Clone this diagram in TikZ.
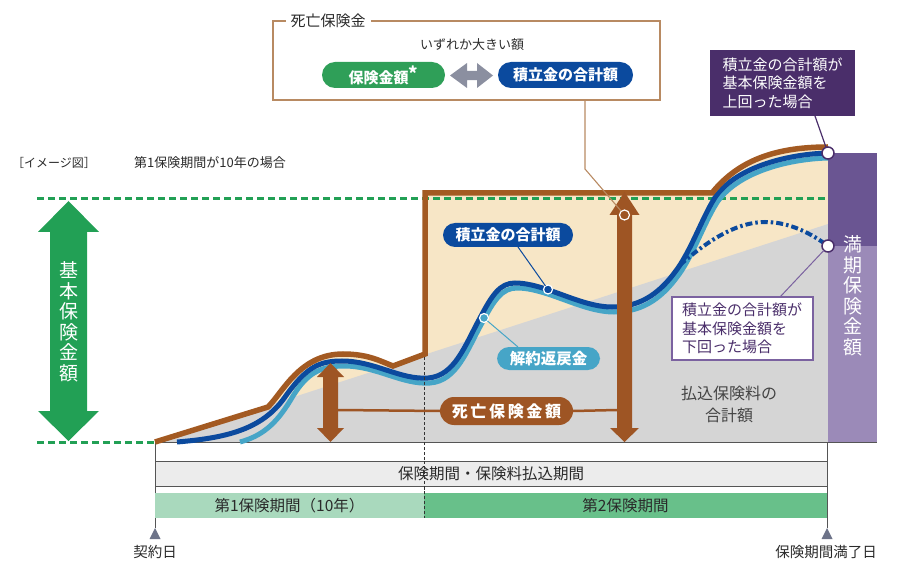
\documentclass[tikz,border=0pt]{standalone}
\usepackage{fontspec}
\setmainfont{Noto Sans CJK JP}
\newcommand\fsz[1]{\fontsize{#1}{#1}\selectfont}
\definecolor{brownM}{HTML}{9E5524}
\definecolor{brownL}{HTML}{A35A22}
\definecolor{tanF}{HTML}{F7E6C6}
\definecolor{grayA}{HTML}{D5D5D5}
\definecolor{blueD}{HTML}{0B4A9E}
\definecolor{blueL}{HTML}{46A5C7}
\definecolor{greenD}{HTML}{22A055}
\definecolor{greenP}{HTML}{2F9F58}
\definecolor{purpleD}{HTML}{4A2E6A}
\definecolor{purpleM}{HTML}{7B62A0}
\definecolor{purpleA}{HTML}{6A5592}
\definecolor{purpleB}{HTML}{9B8AB8}
\definecolor{arrowG}{HTML}{8B8FA0}
\definecolor{boxBr}{HTML}{B88A62}
\definecolor{barG}{HTML}{ECECEC}
\definecolor{greenA}{HTML}{A9D9BD}
\definecolor{greenB}{HTML}{68C08A}
\definecolor{triG}{HTML}{6D7389}
\definecolor{axisG}{HTML}{555555}
\definecolor{textD}{HTML}{2A2A2A}
\definecolor{textG}{HTML}{444444}
\begin{document}
\begin{tikzpicture}[x=1pt,y=-1pt,
  every node/.style={inner sep=0pt,outer sep=0pt,text=textD},
  pillnode/.style={rounded corners=12pt,text=white,font=\fsz{15}\bfseries},
  brownline/.style={draw=brownL,line width=5.5pt},
  blueline/.style={draw=blueD,line width=5pt},
  lblueline/.style={draw=blueL,line width=5pt},
  gdash/.style={draw=greenD,line width=3pt,dash pattern=on 7pt off 4pt},
  thinline/.style={draw=axisG,line width=0.8pt},
  boxline/.style={draw=boxBr,line width=1.1pt},
  vtext/.style={text=white,align=center,font=\fontsize{19}{20.5}\selectfont},
  calltext/.style={align=left,font=\fontsize{15}{18.5}\selectfont,text width=121pt},
  dotnode/.style={circle,minimum size=9pt,draw=white,line width=1.2pt},
  barnode/.style={minimum height=25pt,font=\fsz{15.5},text=textD}
]
\useasboundingbox (0,0) rectangle (905,561);

% tan region (death benefit)
\fill[tanF] (155,442) -- (268,407) .. controls (283,392) and (300,354) .. (343,354)
  .. controls (368,354) and (380,361) .. (393,366) -- (425,354) -- (425,193) -- (712,193)
  .. controls (740,158) and (780,147) .. (828,147) -- (828,442) -- cycle;
% gray region (paid premiums)
\fill[grayA] (155,442) -- (828,224) -- (828,442) -- cycle;
% maturity bar
\fill[purpleA] (828,153) rectangle (877,246);
\fill[purpleB] (828,246) rectangle (877,442);

% green dashed levels
\draw[gdash] (37,199) -- (828,199);
\draw[gdash] (37,442) -- (155,442);

% vertical guides
\draw[thinline] (155,442) -- (155,528);
\draw[thinline] (827,442) -- (827,528);
\draw[thinline] (155,442) -- (877,442);

% curves
\draw[lblueline] (240,442) .. controls (262,436) and (276,424) .. (290,401)
  .. controls (305,375) and (318,366) .. (344,366)
  .. controls (377,366) and (402,385) .. (430,383)
  .. controls (457,381) and (467,350) .. (482,323)
  .. controls (494,300) and (502,288) .. (517,288)
  .. controls (547,288) and (582,312) .. (614,312)
  .. controls (644,312) and (664,297) .. (682,270)
  .. controls (696,248) and (706,219) .. (718,201)
  .. controls (740,171) and (790,159) .. (828,158);
\draw[blueline] (177,442) .. controls (225,438) and (262,430) .. (285,397)
  .. controls (307,366) and (320,361) .. (342,361)
  .. controls (375,361) and (400,380) .. (428,378)
  .. controls (455,376) and (465,345) .. (480,318)
  .. controls (492,295) and (500,283) .. (515,283)
  .. controls (545,283) and (580,307) .. (612,307)
  .. controls (642,307) and (662,292) .. (680,265)
  .. controls (694,243) and (704,214) .. (716,196)
  .. controls (738,166) and (790,154) .. (828,153);
\draw[brownline] (155,442) -- (268,407) .. controls (283,392) and (300,354) .. (343,354)
  .. controls (368,354) and (380,361) .. (393,366) -- (425,354) -- (425,193) -- (712,193)
  .. controls (740,158) and (780,147) .. (828,147);
\draw[blueD,line width=4pt,dash pattern=on 7pt off 3pt on 2.5pt off 3pt]
  (680,265) .. controls (705,243) and (735,222) .. (765,222)
  .. controls (790,222) and (812,234) .. (828,246);

% dashed period divider
\draw[black!80,line width=0.7pt,dash pattern=on 3pt off 2pt] (424,357) -- (424,518);

% death benefit arrows
\fill[brownM] (330.5,363) -- (344,377) -- (338,377) -- (338,428) -- (344,428) -- (330.5,442)
  -- (317,428) -- (323,428) -- (323,377) -- (317,377) -- cycle;
\fill[brownM] (624.5,192) -- (639.5,215) -- (632,215) -- (632,428) -- (639,428) -- (624.5,442)
  -- (610,428) -- (617,428) -- (617,215) -- (609.5,215) -- cycle;
\coordinate (hlineL) at (338,410);
\coordinate (hlineR) at (617,410);
\node[pillnode,fill=brownM,minimum width=133pt,minimum height=28pt,rounded corners=14pt,font=\fsz{16}\bfseries] (pillDeath) at (506.5,411) {死\,亡\,保\,険\,金\,額};
\draw[brownM,line width=2.5pt] (hlineL) -- (pillDeath.west);
\draw[brownM,line width=2.5pt] (pillDeath.east) -- (hlineR);
\node[dotnode,fill=brownM,minimum size=10pt] (dotTall) at (624.5,215) {};

% basic sum arrow
\fill[greenD] (68.5,201) -- (99,232) -- (87,232) -- (87,411) -- (99,411) -- (68.5,441)
  -- (38,411) -- (50,411) -- (50,232) -- (38,232) -- cycle;
\node[vtext] (kihon) at (68.5,322) {基\\本\\保\\険\\金\\額};
\node[vtext] (manki) at (852.5,296) {満\\期\\保\\険\\金\\額};

% curve labels
\node[pillnode,fill=blueD,minimum width=130pt,minimum height=24pt] (lblAcc) at (508,235) {積立金の合計額};
\node[dotnode,fill=blueD] (dotAcc) at (548,289.5) {};
\draw[blueD,line width=1pt] ([xshift=10pt]lblAcc.south) -- (dotAcc);
\node[pillnode,fill=blueL,minimum width=103pt,minimum height=23pt,font=\fsz{15.5}\bfseries] (lblSur) at (548.5,358.5) {解約返戻金};
\node[dotnode,fill=blueL] (dotSur) at (484,318) {};
\draw[blueL,line width=1pt] ([xshift=-30.5pt]lblSur.north) -- (dotSur);

% paid premium text
\node[align=center,font=\fontsize{16}{22}\selectfont,text=textG] (paidTotal) at (729,404) {払込保険料の\\合計額};

% callouts
\node[dotnode,fill=white,draw=purpleD,line width=1.5pt,minimum size=12pt] (dotUp) at (828,153) {};
\node[dotnode,fill=white,draw=purpleD,line width=1.5pt,minimum size=12pt] (dotDown) at (828,246) {};
\node[calltext,fill=purpleD,text=white,minimum width=145pt,minimum height=66pt,text width=120pt,inner xsep=12.5pt] (callUp) at (782.5,83) {積立金の合計額が\\基本保険金額を\\上回った場合};
\draw[purpleD,line width=1.2pt] ([xshift=32.5pt]callUp.south) -- (dotUp);
\node[calltext,fill=white,draw=purpleM,line width=1.2pt,text=purpleD,minimum width=141pt,minimum height=63pt,inner xsep=10pt] (callDown) at (742.5,328.5) {積立金の合計額が\\基本保険金額を\\下回った場合};
\draw[purpleM,line width=1pt] ([xshift=37.5pt]callDown.north) -- (dotDown);

% top box
\node[font=\fsz{15},inner xsep=5pt] (dtitle) at (328,21) {死亡保険金};
\draw[boxline] (dtitle.west) -- (273,21) -- (273,100) -- (660,100) -- (660,21) -- (dtitle.east);
\node[font=\fsz{13}] (either) at (472,45) {いずれか大きい額};
\node[pillnode,fill=greenP,minimum width=123pt,minimum height=26pt,rounded corners=13pt] (pillSum) at (383.5,75) {保険金額\raisebox{3pt}{\fsz{18}*}};
\node[pillnode,fill=blueD,minimum width=135pt,minimum height=26pt,rounded corners=13pt] (pillAccTop) at (565.5,75) {積立金の合計額};
\fill[arrowG] (450,75.5) -- (467,63) -- (467,70.8) -- (477,70.8) -- (477,63) -- (493,75.5)
  -- (477,88) -- (477,80.2) -- (467,80.2) -- (467,88) -- cycle;
\coordinate (boxTap) at (585,100);
\coordinate (boxBend) at (585,169);
\draw[boxline] (boxTap) -- (boxBend) -- (dotTall);

% header texts
\node[font=\fsz{12}] (imgNote) at (54,163) {［イメージ図］};
\node[font=\fsz{13}] (caseNote) at (210,163) {第1保険期間が10年の場合};

% period bars
\node[barnode,draw=axisG,line width=0.8pt,fill=barG,minimum width=672pt] (barAll) at (491,473.5) {保険期間・保険料払込期間};
\node[barnode,fill=greenA,minimum width=269pt] (bar1) at (289.5,505.5) {第1保険期間（10年）};
\node[barnode,fill=greenB,minimum width=403pt] (bar2) at (625.5,505.5) {第2保険期間};
\draw[black!80,line width=0.7pt,dash pattern=on 3pt off 2pt] (424,461) -- (424,518);

% end markers
\fill[triG] (155,528) -- (160.5,539) -- (149.5,539) -- cycle;
\fill[triG] (827,528) -- (832.5,539) -- (821.5,539) -- cycle;
\node[font=\fsz{14.5}] (lblStart) at (155,552) {契約日};
\node[font=\fsz{14.5}] (lblEnd) at (826,552) {保険期間満了日};
\end{tikzpicture}
\end{document}
